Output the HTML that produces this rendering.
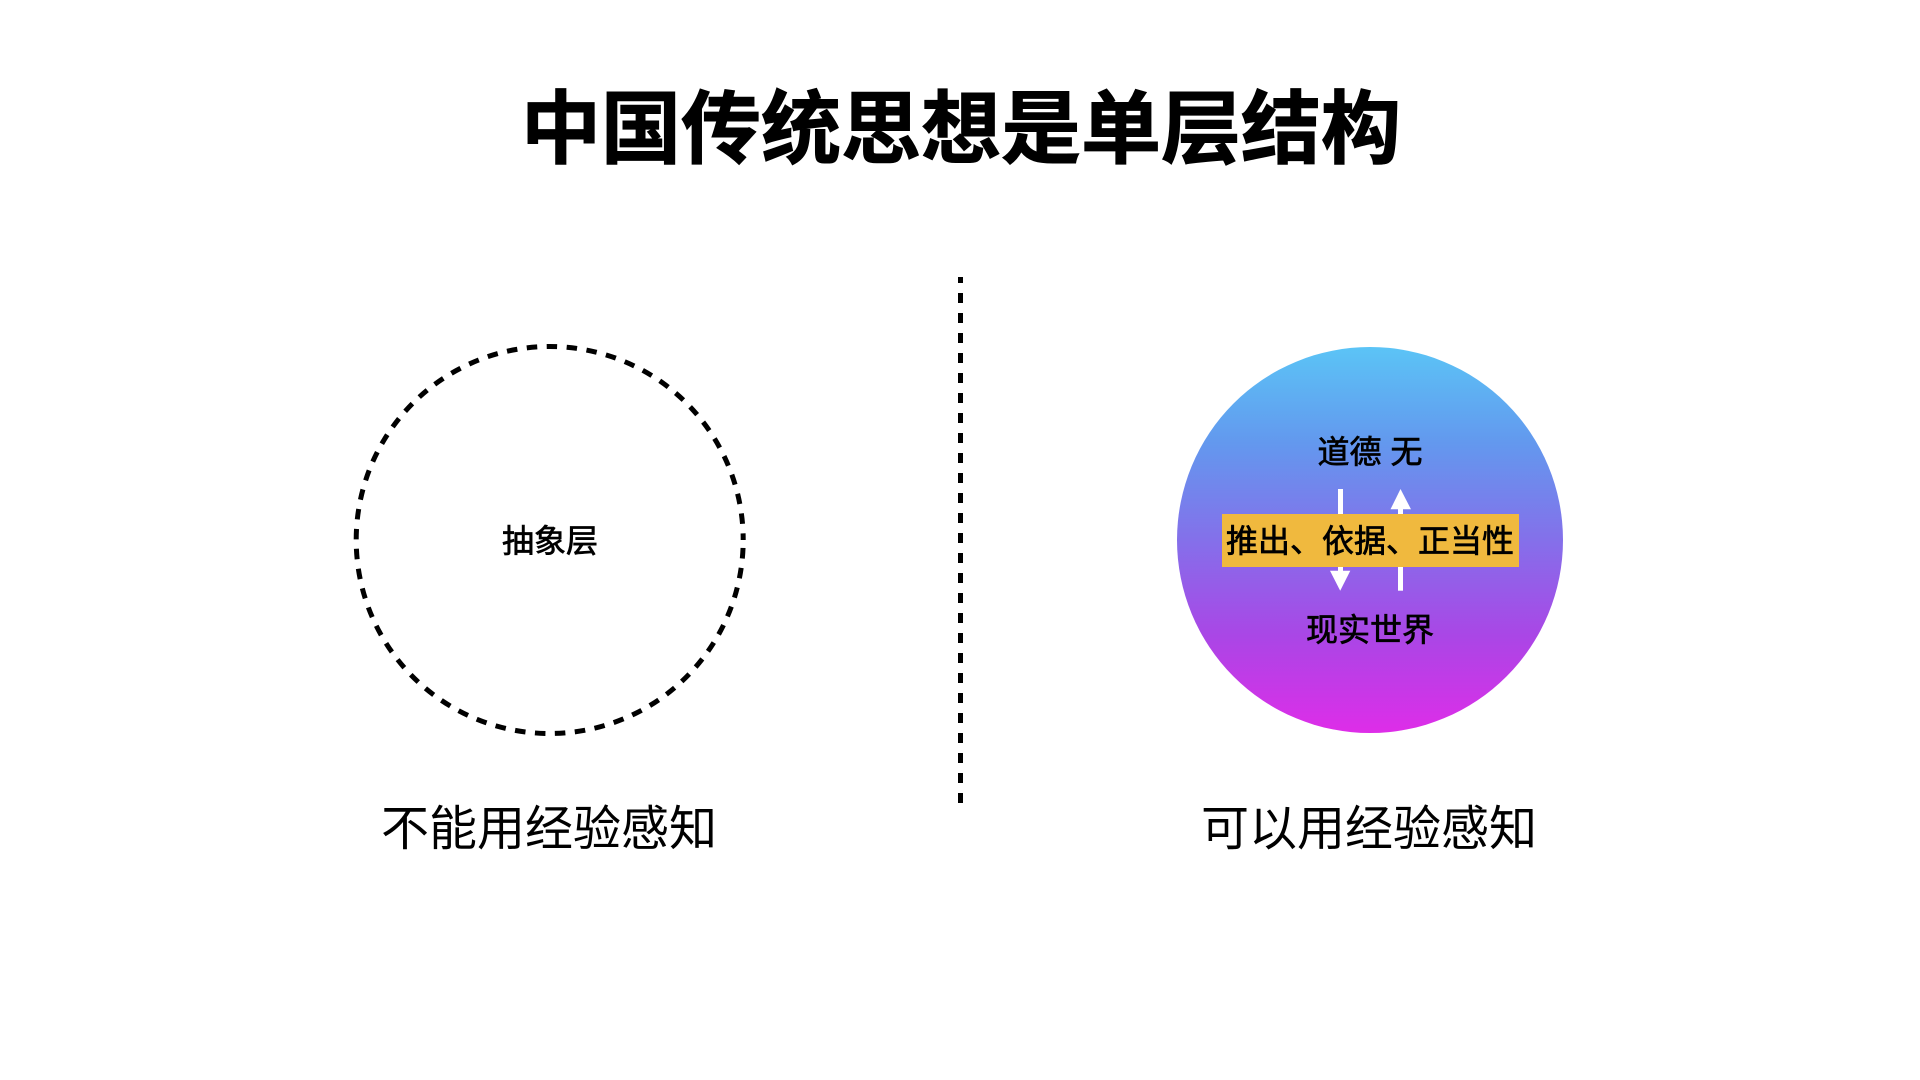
<!DOCTYPE html>
<html><head><meta charset="utf-8"><style>
html,body{margin:0;padding:0;background:#fff;width:1920px;height:1080px;overflow:hidden}
svg{display:block}
text{font-family:"Liberation Sans","Noto Sans CJK SC",sans-serif;fill:#000;text-anchor:middle}
.m{font-size:32px;font-weight:400;stroke:#000;stroke-width:0.7px}
</style></head><body>
<svg width="1920" height="1080" viewBox="0 0 1920 1080" xmlns="http://www.w3.org/2000/svg">
<defs><linearGradient id="g" x1="0" y1="0" x2="0" y2="1">
<stop offset="0" stop-color="#5BC4F6"/><stop offset="0.25" stop-color="#6398EE"/><stop offset="0.5" stop-color="#8470EA"/><stop offset="0.75" stop-color="#AA46E6"/><stop offset="1" stop-color="#DE2DE8"/>
</linearGradient></defs>
<text x="961" y="157" font-size="80" font-weight="700" stroke="#000" stroke-width="1">中国传统思想是单层结构</text>
<line x1="960.5" y1="277" x2="960.5" y2="803" stroke="#000" stroke-width="5" stroke-dasharray="10 10" stroke-dashoffset="4"/>
<circle cx="549.7" cy="540" r="193.5" fill="none" stroke="#000" stroke-width="5" stroke-dasharray="10.5 9.51" stroke-dashoffset="-8"/>
<text class="m" x="550" y="552">抽象层</text>
<circle cx="1370" cy="540" r="193" fill="url(#g)"/>
<rect x="1338" y="489" width="5" height="85" fill="#fff"/>
<polygon points="1330,570.7 1350.3,570.7 1340.2,590.7" fill="#fff"/>
<rect x="1398" y="506" width="5" height="84.7" fill="#fff"/>
<polygon points="1390.5,509.3 1411,509.3 1400.5,489" fill="#fff"/>
<rect x="1222" y="514" width="297" height="53" fill="#F0B93E"/>
<text class="m" x="1370" y="463">道德 无</text>
<text class="m" x="1370" y="552">推出、依据、正当性</text>
<text class="m" x="1370" y="641">现实世界</text>
<text x="549" y="845" font-size="48">不能用经验感知</text>
<text x="1369" y="845" font-size="48">可以用经验感知</text>
</svg>
</body></html>
